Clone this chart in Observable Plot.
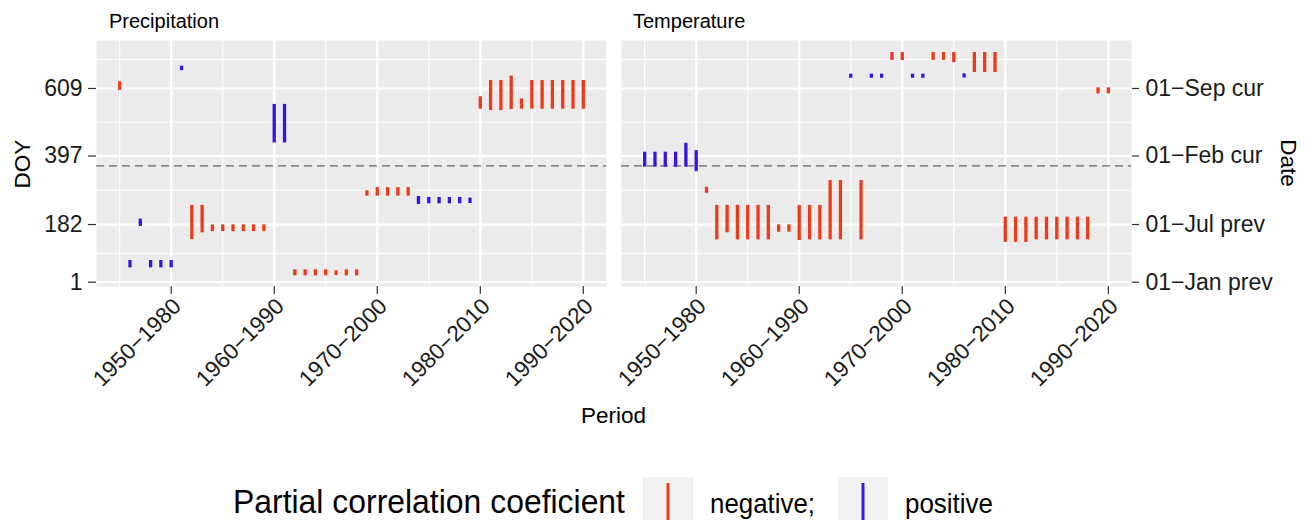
<!DOCTYPE html>
<html><head><meta charset="utf-8">
<script src="https://cdn.jsdelivr.net/npm/d3@7"></script>
<script src="https://cdn.jsdelivr.net/npm/@observablehq/plot@0.6"></script>
<style>
body{margin:0;background:#fff;font-family:"Liberation Sans",Arial,sans-serif;}
#chart{position:relative;width:1311px;height:520px;overflow:hidden;}
#chart svg{display:block;}
</style></head><body><div id="chart"></div>
<script>
// ---- data ----
const facets = ["Precipitation", "Temperature"];
const signDomain = ["negative", "positive"];
const signColors = ["#EE3A18", "#3A12E6"];
const legendLabels = ["negative;", "positive"];
const legendTitle = "Partial correlation coeficient";

const periodTicks = [1980, 1990, 2000, 2010, 2020];
const periodLabels = ["1950\u22121980", "1960\u22121990", "1970\u22122000", "1980\u22122010", "1990\u22122020"];
const periodMinor = [1975, 1985, 1995, 2005, 2015];
const doyTicks = [1, 182, 397, 609];
const doyMinor = [91.5, 289.5, 503, 699.5];
const dateLabels = ["01\u2212Jan prev", "01\u2212Jul prev", "01\u2212Feb cur", "01\u2212Sep cur"];
const yearBoundary = [366];

// Precipitation: window end year, start DOY, end DOY, sign
const precipYear  = [1975,1976,1977,1978,1979,1980,1981,1982,1983,1984,1985,1986,1987,1988,1989,1990,1991,1992,1993,1994,1995,1996,1997,1998,1999,2000,2001,2002,2003,2004,2005,2006,2007,2008,2009,2010,2011,2012,2013,2014,2015,2016,2017,2018,2019,2020];
const precipStart = [603, 46,176, 46, 46, 46,665,135,156,160,160,160,160,160,160,438,438, 21, 21, 21, 21, 22, 21, 21,271,271,271,271,271,245,247,247,247,247,248,544,540,540,543,544,544,544,544,544,544,544];
const precipEnd   = [630, 69,199, 69, 69, 69,679,242,242,181,181,181,181,181,181,559,559, 40, 40, 40, 40, 37, 40, 40,288,298,298,298,298,270,267,267,267,267,265,583,634,634,648,576,634,634,634,634,634,634];
const precipSign  = ["negative","positive","positive","positive","positive","positive","positive","negative","negative","negative","negative","negative","negative","negative","negative","positive","positive","negative","negative","negative","negative","negative","negative","negative","negative","negative","negative","negative","negative","positive","positive","positive","positive","positive","positive","negative","negative","negative","negative","negative","negative","negative","negative","negative","negative","negative"];

// Temperature
const tempYear  = [1975,1976,1977,1978,1979,1980,1981,1982,1983,1984,1985,1986,1987,1988,1989,1990,1991,1992,1993,1994,1995,1996,1997,1998,1999,2000,2001,2002,2003,2004,2005,2006,2007,2008,2009,2010,2011,2012,2013,2014,2015,2016,2017,2018,2019,2020];
const tempStart = [362,362,362,362,362,348,280,134,156,134,134,134,134,158,158,132,134,134,134,134,641,134,641,641,697,697,641,641,697,697,690,642,659,659,659,126,126,126,134,134,134,134,134,134,592,592];
const tempEnd   = [409,409,409,409,437,414,299,242,242,242,242,242,242,181,181,242,242,242,320,320,654,320,654,654,722,722,654,654,722,722,722,655,722,722,722,205,205,205,205,205,205,205,205,205,611,611];
const tempSign  = ["positive","positive","positive","positive","positive","positive","negative","negative","negative","negative","negative","negative","negative","negative","negative","negative","negative","negative","negative","negative","positive","negative","positive","positive","negative","negative","positive","positive","negative","negative","negative","positive","negative","negative","negative","negative","negative","negative","negative","negative","negative","negative","negative","negative","negative","negative"];

// ---- build table ----
const rows = [];
function addRows(name, years, starts, ends, signs) {
  years.forEach((y, i) => rows.push({facet: name, year: y, start: starts[i], end: ends[i], sign: signs[i]}));
}
addRows(facets[0], precipYear, precipStart, precipEnd, precipSign);
addRows(facets[1], tempYear, tempStart, tempEnd, tempSign);

const FONT = "Liberation Sans, Arial, Helvetica, sans-serif";
const W = 1311, H = 455;
const plot = Plot.plot({
  width: W, height: H,
  marginTop: 40, marginBottom: 169, marginLeft: 96, marginRight: 180,
  style: {fontFamily: FONT, background: "transparent", overflow: "visible"},
  fx: {domain: facets, paddingInner: 15 / 525, paddingOuter: 0, axis: null, label: null},
  x: {domain: [1972.75, 2022.25]},
  y: {domain: [-12.5, 759.6]},
  color: {domain: signDomain, range: signColors},
  marks: [
    Plot.frame({fill: "#EBEBEB", stroke: "none"}),
    Plot.ruleX(periodMinor, {stroke: "white", strokeWidth: 1.1}),
    Plot.ruleY(doyMinor, {stroke: "white", strokeWidth: 1.1}),
    Plot.ruleX(periodTicks, {stroke: "white", strokeWidth: 2.2}),
    Plot.ruleY(doyTicks, {stroke: "white", strokeWidth: 2.2}),
    Plot.ruleY(yearBoundary, {stroke: "#666", strokeWidth: 1.4, strokeDasharray: "8,5"}),
    Plot.ruleX(rows, {fx: "facet", x: "year", y1: "start", y2: "end", stroke: "sign", strokeWidth: 3.3}),
    // x tick marks
    Plot.axisX({facetAnchor: "bottom", ticks: periodTicks, tickFormat: () => "", tickSize: 8,
      label: null, stroke: "#333", strokeWidth: 1.2}),
    // x tick labels (rotated, shifted so their end sits at the tick)
    Plot.axisX({facetAnchor: "bottom", ticks: periodTicks, tickFormat: d => periodLabels[periodTicks.indexOf(d)],
      tickRotate: -45, tickSize: 0, tickPadding: 11, fontSize: 22.5, label: null,
      color: "#1a1a1a", dx: 6, dy: 5}),
    Plot.axisY({anchor: "left", facetAnchor: "left", ticks: doyTicks, tickSize: 8, tickPadding: 6, fontSize: 23,
      label: null, stroke: "#333", strokeWidth: 1.2, color: "#1a1a1a"}),
    Plot.axisY({anchor: "right", facetAnchor: "right", ticks: doyTicks, tickFormat: d => dateLabels[doyTicks.indexOf(d)],
      tickSize: 7, tickPadding: 7, fontSize: 23, label: null, stroke: "#333", strokeWidth: 1.2, color: "#1a1a1a"})
  ]
});
document.getElementById("chart").appendChild(plot);

// ---- titles and strip labels ----
const svg = d3.select(plot);
const addText = (txt, x, y, size, rot, anchor) => svg.append("text")
  .attr("transform", `translate(${x},${y}) rotate(${rot})`)
  .attr("text-anchor", anchor).attr("font-family", FONT).attr("font-size", size)
  .attr("fill", "#000").text(txt);
addText(facets[0], 109, 28, 20, 0, "start");
addText(facets[1], 633, 28, 20, 0, "start");
addText("DOY", 30, 164, 22.5, -90, "middle");
addText("Date", 1281, 163, 22.5, 90, "middle");
addText("Period", 613.5, 423, 22.5, 0, "middle");

// ---- legend ----
const leg = d3.select("#chart").append("svg").attr("width", W).attr("height", 65);
const oy = 455;
leg.append("text").attr("x", 233).attr("y", 513 - oy).attr("font-family", FONT).attr("font-size", 33)
  .attr("textLength", 392).attr("lengthAdjust", "spacingAndGlyphs").text(legendTitle);
const keyX = [643, 838], textX = [710, 905], textLen = [105, 88];
signDomain.forEach((s, i) => {
  leg.append("rect").attr("x", keyX[i]).attr("y", 477 - oy).attr("width", 50).attr("height", 60).attr("fill", "#F2F2F2");
  leg.append("line").attr("x1", keyX[i] + 25).attr("x2", keyX[i] + 25).attr("y1", 483 - oy).attr("y2", 70)
    .attr("stroke", signColors[i]).attr("stroke-width", 3);
  leg.append("text").attr("x", textX[i]).attr("y", 513 - oy).attr("font-family", FONT).attr("font-size", 28)
    .attr("textLength", textLen[i]).attr("lengthAdjust", "spacingAndGlyphs").text(legendLabels[i]);
});
</script></body></html>
